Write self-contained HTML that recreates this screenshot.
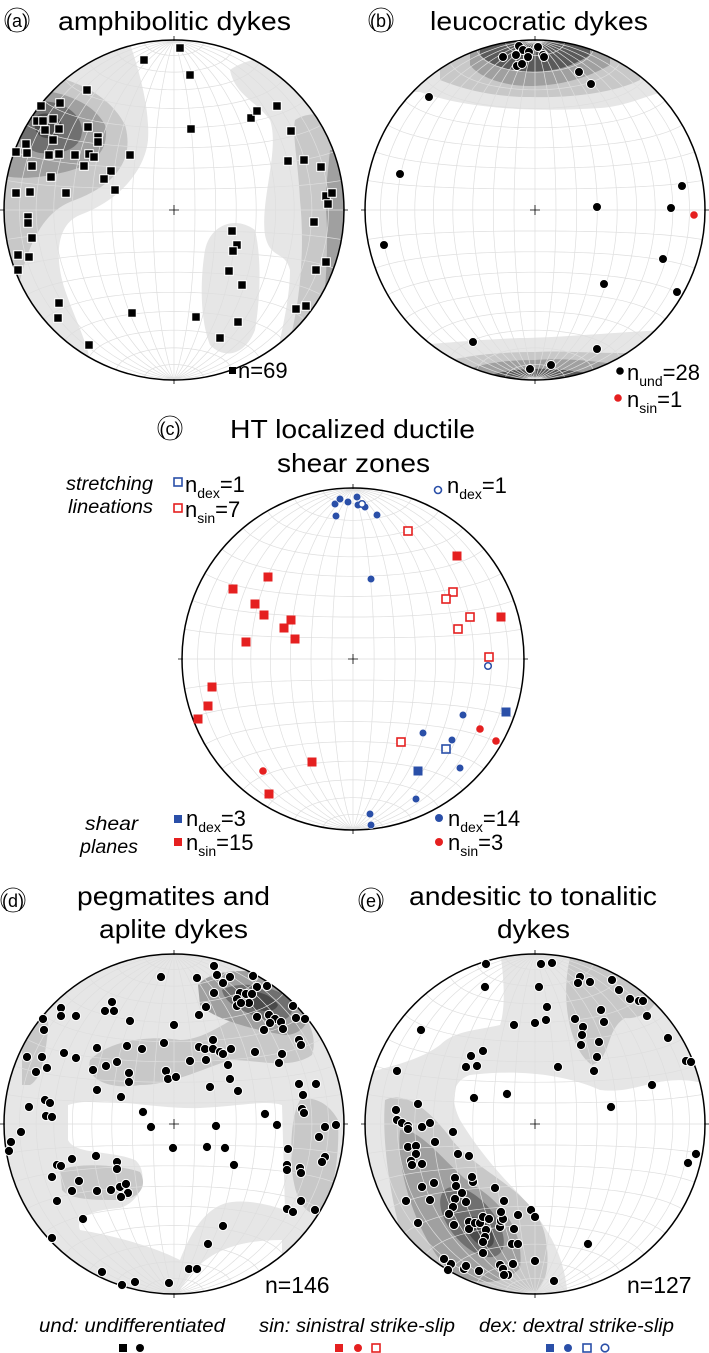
<!DOCTYPE html>
<html><head><meta charset="utf-8"><style>
body{margin:0;background:#fff;}
svg{display:block;font-family:"Liberation Sans",sans-serif;}
</style></head><body>
<svg id="s" width="709" height="1353" viewBox="0 0 709 1353" xmlns="http://www.w3.org/2000/svg">
<defs>
<clipPath id="ca"><circle cx="174" cy="210" r="170"/></clipPath>
<clipPath id="cb"><circle cx="535" cy="210" r="170"/></clipPath>
<clipPath id="cd"><circle cx="174" cy="1124" r="170"/></clipPath>
<clipPath id="ce"><circle cx="535" cy="1124" r="170"/></clipPath>
</defs>

<!-- contours a -->
<g clip-path="url(#ca)">
<path d="M0,30 L125,30 C140,70 150,110 148,140 C145,170 120,200 80,215 C55,225 55,260 65,290 C75,320 90,345 95,385 L0,385Z" fill="#e6e6e6"/>
<path d="M230,70 C250,55 300,50 350,60 L350,385 L270,385 C280,340 290,300 290,270 C285,250 270,260 265,235 C260,200 280,150 270,120 C255,100 235,95 230,70Z" fill="#e6e6e6"/>
<path d="M205,250 C210,225 235,215 255,230 C262,260 260,300 255,330 C245,355 225,360 210,345 C200,320 200,280 205,250Z" fill="#e6e6e6"/>
<path d="M0,70 C50,70 105,85 125,125 C135,160 115,185 75,200 C45,210 30,240 20,280 L0,280Z" fill="#c8c8c8"/>
<path d="M295,120 C310,110 330,115 350,120 L350,340 L290,340 C300,300 305,250 300,200 C298,160 292,135 295,120Z" fill="#c8c8c8"/>
<path d="M0,90 C40,85 90,95 105,125 C110,150 95,165 65,172 C40,178 20,180 0,175Z" fill="#a0a0a0"/>
<path d="M330,150 C340,150 350,155 350,160 L350,330 L320,335 C325,300 330,240 325,200Z" fill="#a0a0a0"/>
<path d="M20,105 C45,95 80,105 82,130 C82,150 60,155 40,153 C22,150 12,130 20,105Z" fill="#707070"/>
<path d="M38,115 C50,110 62,118 62,127 C60,138 50,140 42,137 C34,133 32,122 38,115Z" fill="#4a4a4a"/>
<path d="M330,290 L350,270 L350,330 L320,345Z" fill="#707070"/>
</g>
<!-- contours b -->
<g clip-path="url(#cb)">
<path d="M360,30 L710,30 L710,85 C660,85 640,105 600,108 C540,112 470,110 420,92 L360,92Z" fill="#e6e6e6"/>
<path d="M440,30 L640,30 L640,80 C610,95 560,98 530,97 C500,97 470,92 440,80Z" fill="#c8c8c8"/>
<path d="M470,30 L610,30 L610,65 C580,82 550,86 530,86 C505,86 480,78 470,65Z" fill="#a0a0a0"/>
<path d="M480,30 L590,30 L590,55 C570,68 550,72 530,72 C510,72 490,65 480,55Z" fill="#5a5a5a"/>
<path d="M360,400 L710,400 L710,328 C640,330 560,338 520,338 C470,340 420,345 360,350Z" fill="#e6e6e6"/>
<path d="M420,400 L660,400 L660,352 C600,355 570,350 535,352 C480,352 440,360 420,370Z" fill="#c8c8c8"/>
<path d="M450,400 L620,400 L620,365 C590,360 560,358 535,360 C500,360 470,365 450,378Z" fill="#a0a0a0"/>
<path d="M480,400 L600,400 L600,375 C570,370 550,368 535,369 C515,369 495,372 480,380Z" fill="#5a5a5a"/>
</g>
<!-- contours d -->
<g clip-path="url(#cd)">
<rect x="0" y="950" width="350" height="350" fill="#e6e6e6"/>
<path d="M68,1105 C100,1095 160,1110 200,1108 C240,1106 265,1100 282,1105 L285,1210 C270,1205 250,1200 232,1202 C205,1205 190,1235 180,1260 C150,1245 110,1235 80,1230 C75,1218 90,1210 120,1208 C145,1200 148,1170 135,1160 C110,1150 75,1155 68,1140Z" fill="#fff"/>
<path d="M76,1232 C110,1238 150,1250 176,1290 L175,1300 L100,1300 C90,1270 80,1250 76,1232Z" fill="#e6e6e6"/>
<path d="M180,1290 C200,1255 230,1240 282,1240 L282,1300 L180,1300Z" fill="#fff"/>
<path d="M90,1060 C110,1040 150,1035 180,1040 C210,1040 240,1010 270,1000 C300,1000 320,1030 312,1055 C290,1070 260,1060 230,1060 C200,1070 170,1085 140,1085 C110,1090 85,1080 90,1060Z" fill="#c8c8c8"/>
<path d="M60,1170 C80,1162 120,1165 140,1172 C148,1185 140,1200 118,1200 C95,1200 70,1200 62,1190Z" fill="#c8c8c8"/>
<path d="M300,1100 C315,1095 330,1105 338,1120 C340,1160 332,1200 320,1215 C305,1215 295,1200 292,1170 C290,1140 292,1115 300,1100Z" fill="#c8c8c8"/>
<path d="M22,1000 C40,1000 50,1010 48,1030 C45,1060 40,1080 30,1085 L22,1085Z" fill="#c8c8c8"/>
<path d="M198,985 C215,965 265,968 298,985 C318,1005 310,1035 285,1035 C255,1030 215,1020 200,1005Z" fill="#a0a0a0"/>
<path d="M222,990 C240,980 270,985 290,998 C298,1015 285,1025 265,1020 C245,1012 225,1005 222,990Z" fill="#707070"/>
<path d="M240,993 C255,988 272,995 278,1005 C275,1013 262,1012 252,1008 C243,1003 238,998 240,993Z" fill="#4a4a4a"/>
</g>
<!-- contours e -->
<g clip-path="url(#ce)">
<rect x="360" y="950" width="350" height="350" fill="#e6e6e6"/>
<path d="M360,950 L500,950 C505,985 505,1010 500,1025 C480,1030 455,1030 440,1045 C420,1060 395,1065 360,1075Z" fill="#fff"/>
<path d="M470,1075 C510,1070 560,1072 600,1090 C640,1095 660,1070 710,1085 L710,1300 L568,1300 C565,1250 545,1225 520,1195 C495,1170 475,1145 460,1120 C448,1095 455,1080 470,1075Z" fill="#fff"/>
<path d="M385,1100 C405,1090 430,1110 452,1140 C480,1175 535,1190 545,1235 C552,1270 545,1295 520,1300 L425,1300 C400,1250 380,1160 385,1100Z" fill="#c8c8c8"/>
<path d="M570,958 L655,972 C668,995 650,1020 625,1018 C605,1030 612,1058 592,1065 C570,1050 560,1000 570,958Z" fill="#c8c8c8"/>
<path d="M400,1130 C420,1128 442,1160 470,1183 C500,1200 525,1230 520,1268 C500,1290 460,1285 440,1260 C412,1222 396,1165 400,1130Z" fill="#a0a0a0"/>
<ellipse cx="472" cy="1222" rx="42" ry="22" transform="rotate(50 472 1222)" fill="#707070"/>
<ellipse cx="480" cy="1232" rx="18" ry="10" transform="rotate(50 480 1232)" fill="#4a4a4a"/>
</g>

<g id="grids"></g>
<g id="pts"></g>

<!-- titles -->
<circle cx="17" cy="20" r="12" fill="none" stroke="#000" stroke-width="0.8"/>
<text x="17" y="27" font-size="18" text-anchor="middle">(a)</text>
<text x="58" y="30" font-size="26" textLength="233" lengthAdjust="spacingAndGlyphs">amphibolitic dykes</text>
<circle cx="381" cy="20" r="12" fill="none" stroke="#000" stroke-width="0.8"/>
<text x="381" y="27" font-size="18" text-anchor="middle">(b)</text>
<text x="430" y="30" font-size="26" textLength="218" lengthAdjust="spacingAndGlyphs">leucocratic dykes</text>

<text x="257" y="385" font-size="22" textLength="28" lengthAdjust="spacingAndGlyphs"></text>
<rect x="229" y="367" width="7" height="7" fill="#000"/>
<text x="238" y="378" font-size="22">n=69</text>
<circle cx="620" cy="371" r="3.8" fill="#000"/>
<text x="627" y="380" font-size="22">n<tspan font-size="14" dy="6">und</tspan><tspan dy="-6">=28</tspan></text>
<circle cx="618" cy="398" r="3.8" fill="#e52020"/>
<text x="627" y="407" font-size="22">n<tspan font-size="14" dy="6">sin</tspan><tspan dy="-6">=1</tspan></text>

<circle cx="170" cy="428" r="12" fill="none" stroke="#000" stroke-width="0.8"/>
<text x="170" y="435" font-size="18" text-anchor="middle">(c)</text>
<text x="230" y="438" font-size="26" textLength="245" lengthAdjust="spacingAndGlyphs">HT localized ductile</text>
<text x="277" y="472" font-size="26" textLength="153" lengthAdjust="spacingAndGlyphs">shear zones</text>

<text x="66" y="490" font-size="19" font-style="italic" textLength="87" lengthAdjust="spacingAndGlyphs">stretching</text>
<text x="68" y="513" font-size="19" font-style="italic" textLength="85" lengthAdjust="spacingAndGlyphs">lineations</text>
<rect x="174" y="478" width="8" height="8" fill="none" stroke="#2a4fa8" stroke-width="1.6"/>
<text x="185" y="492" font-size="22">n<tspan font-size="14" dy="6">dex</tspan><tspan dy="-6">=1</tspan></text>
<rect x="174" y="504" width="8" height="8" fill="none" stroke="#e52020" stroke-width="1.6"/>
<text x="185" y="517" font-size="22">n<tspan font-size="14" dy="6">sin</tspan><tspan dy="-6">=7</tspan></text>
<circle cx="438" cy="490" r="3.5" fill="none" stroke="#2a4fa8" stroke-width="1.6"/>
<text x="447" y="493" font-size="22">n<tspan font-size="14" dy="6">dex</tspan><tspan dy="-6">=1</tspan></text>

<text x="85" y="830" font-size="19" font-style="italic" textLength="53" lengthAdjust="spacingAndGlyphs">shear</text>
<text x="80" y="853" font-size="19" font-style="italic" textLength="58" lengthAdjust="spacingAndGlyphs">planes</text>
<rect x="174" y="815" width="8" height="8" fill="#2a4fa8"/>
<text x="186" y="826" font-size="22">n<tspan font-size="14" dy="6">dex</tspan><tspan dy="-6">=3</tspan></text>
<rect x="174" y="838" width="8" height="8" fill="#e52020"/>
<text x="186" y="850" font-size="22">n<tspan font-size="14" dy="6">sin</tspan><tspan dy="-6">=15</tspan></text>
<circle cx="439" cy="818" r="4" fill="#2a4fa8"/>
<text x="448" y="826" font-size="22">n<tspan font-size="14" dy="6">dex</tspan><tspan dy="-6">=14</tspan></text>
<circle cx="439" cy="842" r="4" fill="#e52020"/>
<text x="448" y="850" font-size="22">n<tspan font-size="14" dy="6">sin</tspan><tspan dy="-6">=3</tspan></text>

<circle cx="13" cy="900" r="12" fill="none" stroke="#000" stroke-width="0.8"/>
<text x="13" y="907" font-size="18" text-anchor="middle">(d)</text>
<text x="77" y="905" font-size="26" textLength="193" lengthAdjust="spacingAndGlyphs">pegmatites and</text>
<text x="99" y="938" font-size="26" textLength="149" lengthAdjust="spacingAndGlyphs">aplite dykes</text>
<circle cx="371" cy="900" r="12" fill="none" stroke="#000" stroke-width="0.8"/>
<text x="371" y="907" font-size="18" text-anchor="middle">(e)</text>
<text x="409" y="905" font-size="26" textLength="248" lengthAdjust="spacingAndGlyphs">andesitic to tonalitic</text>
<text x="497" y="938" font-size="26" textLength="73" lengthAdjust="spacingAndGlyphs">dykes</text>
<text x="265" y="1293" font-size="23">n=146</text>
<text x="627" y="1293" font-size="23">n=127</text>

<text x="39" y="1332" font-size="19" font-style="italic" textLength="186" lengthAdjust="spacingAndGlyphs">und: undifferentiated</text>
<text x="259" y="1332" font-size="19" font-style="italic" textLength="196" lengthAdjust="spacingAndGlyphs">sin: sinistral strike-slip</text>
<text x="479" y="1332" font-size="19" font-style="italic" textLength="195" lengthAdjust="spacingAndGlyphs">dex: dextral strike-slip</text>
<rect x="119" y="1344" width="8" height="8" fill="#000"/><circle cx="140" cy="1348" r="4" fill="#000"/>
<rect x="335" y="1344" width="8" height="8" fill="#e52020"/><circle cx="358" cy="1348" r="4" fill="#e52020"/><rect x="372" y="1344" width="8" height="8" fill="none" stroke="#e52020" stroke-width="1.6"/>
<rect x="546" y="1344" width="8" height="8" fill="#2a4fa8"/><circle cx="568" cy="1348" r="4" fill="#2a4fa8"/><rect x="583" y="1344" width="8" height="8" fill="none" stroke="#2a4fa8" stroke-width="1.6"/><circle cx="605" cy="1348" r="3.8" fill="none" stroke="#2a4fa8" stroke-width="1.6"/>
</svg>
<script>
(function(){
var NS="http://www.w3.org/2000/svg";
function el(t,a,p){var e=document.createElementNS(NS,t);for(var k in a)e.setAttribute(k,a[k]);p.appendChild(e);return e;}
var G=document.getElementById("grids"),P=document.getElementById("pts");
var R=Math.PI/180;
function proj(lam,phi){var x=Math.cos(phi)*Math.sin(lam),y=Math.sin(phi),z=Math.cos(phi)*Math.cos(lam);var k=Math.sqrt(1/(1+z));return [x*k,y*k];}
function net(cx,cy,r){
 var d="";
 for(var l=-80;l<=80;l+=10){var s="";for(var p=-90;p<=90;p+=3){var q=proj(l*R,p*R);s+=(s?"L":"M")+(cx+q[0]*r).toFixed(1)+","+(cy-q[1]*r).toFixed(1);}d+=s;}
 for(var p=-80;p<=80;p+=10){var s="";for(var l=-90;l<=90;l+=3){var q=proj(l*R,p*R);s+=(s?"L":"M")+(cx+q[0]*r).toFixed(1)+","+(cy-q[1]*r).toFixed(1);}d+=s;}
 el("path",{d:d,fill:"none",stroke:"#dedede","stroke-width":"0.7"},G);
 el("circle",{cx:cx,cy:cy,r:r,fill:"none",stroke:"#000","stroke-width":"1.5"},G);
 el("path",{d:"M"+(cx-5)+","+cy+"h10M"+cx+","+(cy-5)+"v10M"+cx+","+(cy-r-4)+"v5M"+cx+","+(cy+r-1)+"v5M"+(cx-r-4)+","+cy+"h5M"+(cx+r-1)+","+cy+"h5",stroke:"#000","stroke-width":"0.8"},G);
}
net(174,210,170);net(535,210,170);net(353,659,171);net(174,1124,170);net(535,1124,170);
function sq(a,fill,stroke,sw,s){for(var i=0;i<a.length;i+=2)el("rect",{x:a[i]-s/2,y:a[i+1]-s/2,width:s,height:s,fill:fill,stroke:stroke,"stroke-width":sw},P);}
function dt(a,fill,stroke,sw,r){for(var i=0;i<a.length;i+=2)el("circle",{cx:a[i],cy:a[i+1],r:r,fill:fill,stroke:stroke,"stroke-width":sw},P);}
var A=[180,48,144,60,190,75,87,90,41,106,60,103,37,121,43,121,53,119,45,130,59,129,53,140,88,127,98,137,98,142,26,144,16,152,27,153,49,155,59,154,75,155,89,154,94,157,84,166,32,166,130,155,111,171,104,179,51,177,115,190,66,193,16,193,30,192,28,217,28,223,32,238,18,255,29,257,18,270,59,303,58,318,89,345,132,313,196,317,220,338,238,322,229,271,242,285,232,231,237,245,233,251,191,129,251,118,257,111,277,106,291,131,288,161,304,160,321,167,326,196,332,193,328,204,314,222,326,262,316,270,296,309,306,306];
sq(A,"#000","#fff",1,8.5);
var B=[519,46,538,47,523,50,529,52,516,55,528,57,543,55,544,57,503,57,517,66,522,64,579,72,591,84,429,97,400,174,682,186,597,207,671,208,384,245,663,259,604,284,677,292,473,342,597,349,551,365,530,369];
dt(B,"#000","#fff",1,4.5);
dt([694,215],"#e52020","#fff",1,4.3);
// c
dt([335,504,340,499,348,502,357,497,365,507,336,516,377,515,371,579,423,733,416,799,370,814,371,825,460,768,452,740,463,715,358,505],"#2a4fa8","#fff",0.6,3.8);
dt([362,504,488,666],"#fff","#2a4fa8",1.5,3.3);
sq([506,712,418,771],"#2a4fa8","none",0,9);
sq([446,749],"none","#2a4fa8",1.6,8);
sq([268,577,233,589,255,604,264,615,291,620,284,628,295,639,246,642,457,556,501,617,212,687,208,706,198,719,312,762,269,794],"#e52020","none",0,9);
dt([480,729,496,741,263,771],"#e52020","none",0,3.8);
sq([408,531,453,592,446,599,470,617,458,629,489,657,401,742],"#fff","#e52020",1.6,8);
var D=[214,966,161,977,197,978,217,975,223,983,230,977,253,976,257,987,267,986,214,993,240,993,246,994,252,994,237,999,249,1003,237,1006,241,1003,206,1007,257,1017,269,1015,275,1019,281,1022,270,1023,283,1029,264,1030,293,1006,296,1018,305,1019,299,1040,301,1045,282,1054,279,1063,255,1052,199,1015,174,1025,164,1043,112,1002,105,1011,114,1011,130,1021,61,1008,61,1016,76,1016,43,1019,44,1030,64,1053,76,1058,42,1057,27,1057,47,1068,36,1072,97,1048,127,1046,142,1049,117,1062,106,1066,93,1070,129,1073,129,1082,97,1090,121,1097,166,1071,168,1079,176,1077,199,1047,205,1049,213,1040,213,1049,220,1052,223,1054,231,1049,190,1061,206,1060,228,1065,230,1079,210,1087,238,1091,299,1084,316,1084,303,1095,302,1109,304,1113,265,1114,277,1125,325,1127,336,1125,319,1137,288,1149,325,1157,322,1162,287,1165,287,1170,300,1168,301,1173,29,1107,45,1100,50,1103,46,1116,52,1117,143,1112,151,1127,216,1126,21,1132,11,1142,9,1151,173,1148,207,1147,225,1148,234,1165,96,1156,72,1159,57,1165,61,1166,117,1162,117,1169,52,1177,79,1181,72,1191,97,1191,111,1190,120,1187,126,1184,128,1193,121,1197,57,1201,83,1219,52,1238,102,1272,122,1285,135,1282,169,1283,189,1269,197,1269,208,1244,223,1226,287,1209,293,1212,301,1201,315,1210];
dt(D,"#000","#fff",1,4.6);
var E=[486,964,541,964,552,963,485,987,539,987,580,977,578,983,590,982,612,980,619,990,630,999,639,1001,643,1001,647,1016,547,1007,546,1020,535,1023,514,1025,575,1019,583,1027,582,1035,601,1010,604,1022,581,1045,599,1042,597,1057,594,1071,558,1067,668,1038,686,1061,691,1062,652,1085,611,1107,421,1030,397,1071,483,1051,471,1056,466,1067,477,1066,474,1098,507,1094,418,1104,396,1110,397,1120,402,1123,408,1126,408,1129,422,1127,430,1123,453,1132,435,1142,408,1147,416,1146,416,1154,458,1154,469,1156,411,1161,412,1165,422,1164,696,1154,688,1163,406,1201,418,1223,434,1183,430,1200,422,1187,455,1178,473,1182,472,1177,456,1186,495,1188,462,1193,455,1199,466,1202,453,1207,449,1214,454,1225,469,1222,469,1229,475,1223,480,1223,483,1217,489,1219,486,1230,485,1237,483,1242,483,1253,500,1227,501,1221,503,1219,501,1212,504,1201,514,1229,518,1215,531,1210,535,1217,512,1244,518,1244,535,1261,513,1264,500,1265,503,1269,508,1275,504,1275,479,1271,464,1269,466,1266,451,1264,448,1270,444,1259,554,1281,588,1244];
dt(E,"#000","#fff",1,4.6);
})();
</script>
</body></html>
